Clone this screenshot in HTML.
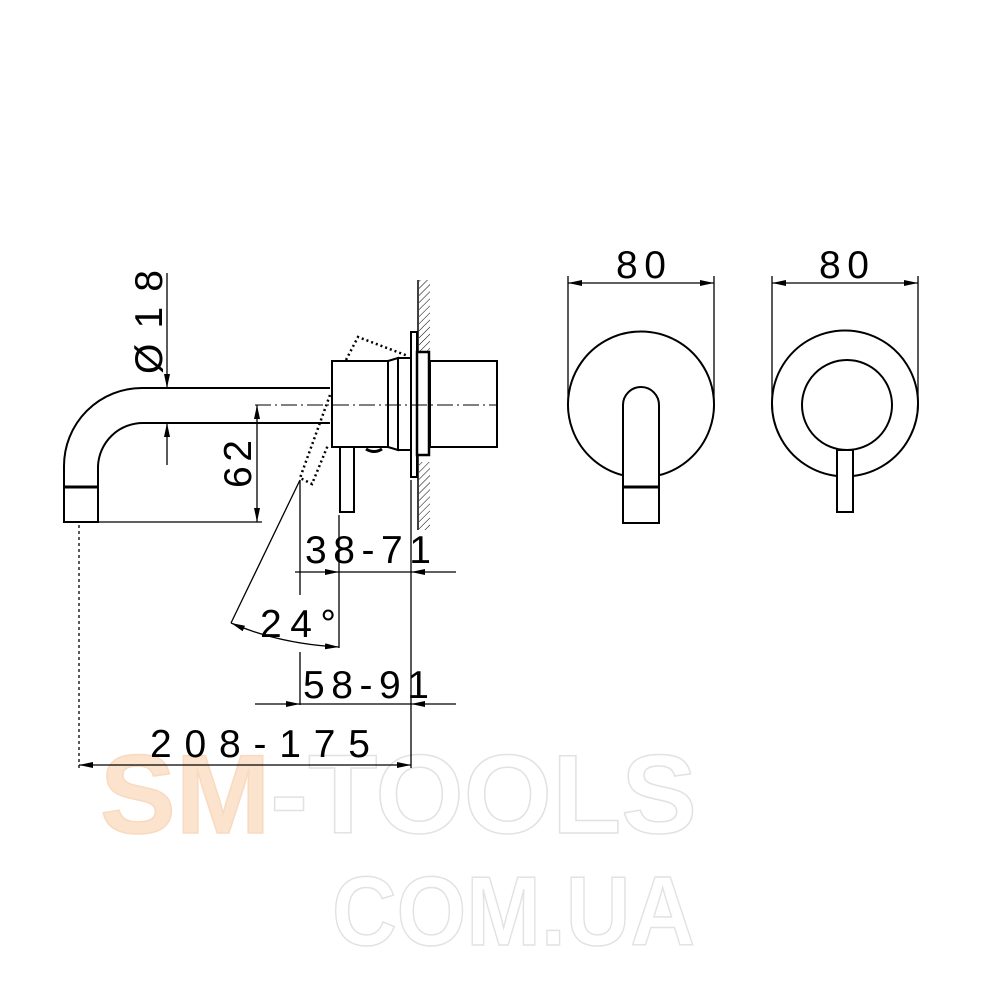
<!DOCTYPE html>
<html><head><meta charset="utf-8"><style>
html,body{margin:0;padding:0;background:#fff}
svg{display:block}
text{font-family:"Liberation Sans",Arial,sans-serif}
</style></head><body>
<svg width="1000" height="1000" viewBox="0 0 1000 1000" xmlns="http://www.w3.org/2000/svg">
<defs>
<pattern id="h" width="5" height="5" patternUnits="userSpaceOnUse" patternTransform="rotate(45)">
<line x1="0" y1="0" x2="0" y2="5" stroke="#000" stroke-width="1"/>
</pattern>
<marker id="a" viewBox="0 0 14 6" refX="14" refY="3" markerWidth="14" markerHeight="6" markerUnits="userSpaceOnUse" orient="auto-start-reverse">
<path d="M0,0 L14,3 L0,6 z" fill="#000"/>
</marker>
</defs>

<text x="100" y="833" font-size="112" font-weight="bold" textLength="597" lengthAdjust="spacingAndGlyphs" fill="#fff" stroke="#e2e2e2" stroke-width="1.5"><tspan fill="#fce3cd" stroke="#f8dac0">SM</tspan>-TOOLS</text>
<text x="332" y="945" font-size="98" font-weight="bold" textLength="363" lengthAdjust="spacingAndGlyphs" fill="#fff" stroke="#e2e2e2" stroke-width="1.5">COM.UA</text>

<g fill="none" stroke="#000" stroke-width="2">
<path d="M330,388 L142,388 A78,78 0 0 0 64,466 L64,522 L98,522 L98,466 A45,45 0 0 1 143,423 L330,423"/>
<line x1="64" y1="487" x2="98" y2="487" stroke-width="3"/>
<rect x="332" y="361" width="56" height="86"/>
<path d="M388,361 L398,358 L398,450 L388,447"/>
<rect x="398" y="358" width="13" height="92"/>
<rect x="411" y="332" width="6" height="145"/>
<rect x="417" y="352" width="12" height="103" stroke-width="2.5"/>
<rect x="430" y="361" width="67" height="86"/>
<rect x="340" y="447" width="14" height="65"/>
<path d="M366,449 Q374,454 382,449" stroke-width="3"/>
<line x1="418" y1="280" x2="418" y2="352" stroke-width="1.5"/>
<line x1="418" y1="455" x2="418" y2="530" stroke-width="1.5"/>
</g>
<rect x="419" y="280" width="11" height="72" fill="url(#h)"/>
<rect x="419" y="462" width="11" height="68" fill="url(#h)"/>
<path d="M346,360 L358,337 L408,356 M330,395 L300,478 L312,484 L328,445" fill="none" stroke="#000" stroke-width="2.5" stroke-dasharray="2,3"/>
<line x1="255" y1="405" x2="497" y2="405" stroke="#000" stroke-width="1" stroke-dasharray="16,4,2,4"/>

<g fill="none" stroke="#000" stroke-width="1.3">
<line x1="167" y1="273" x2="167" y2="388" marker-end="url(#a)"/>
<line x1="167" y1="465" x2="167" y2="423" marker-end="url(#a)"/>
<line x1="257" y1="463" x2="257" y2="405" marker-end="url(#a)"/>
<line x1="257" y1="463" x2="257" y2="522" marker-end="url(#a)"/>
<line x1="98" y1="522" x2="262" y2="522"/>
<line x1="79" y1="525" x2="79" y2="768" stroke-dasharray="3,3"/>
<line x1="411" y1="480" x2="411" y2="768"/>
<line x1="339" y1="515" x2="339" y2="648"/>
<line x1="300" y1="480" x2="300" y2="595"/>
<line x1="300" y1="652" x2="300" y2="705"/>
<line x1="300" y1="480" x2="231" y2="623"/>
<line x1="295" y1="572" x2="339" y2="572" marker-end="url(#a)"/>
<line x1="339" y1="572" x2="411" y2="572"/>
<line x1="456" y1="572" x2="411" y2="572" marker-end="url(#a)"/>
<path d="M231,623 Q280,644 339,647" marker-start="url(#a)" marker-end="url(#a)"/>
<line x1="255" y1="704" x2="300" y2="704" marker-end="url(#a)"/>
<line x1="300" y1="704" x2="411" y2="704"/>
<line x1="456" y1="704" x2="411" y2="704" marker-end="url(#a)"/>
<line x1="79" y1="765" x2="411" y2="765" marker-start="url(#a)" marker-end="url(#a)"/>
<line x1="568" y1="276" x2="568" y2="410"/>
<line x1="714" y1="276" x2="714" y2="410"/>
<line x1="568" y1="283" x2="714" y2="283" marker-start="url(#a)" marker-end="url(#a)"/>
<line x1="772" y1="276" x2="772" y2="410"/>
<line x1="918" y1="276" x2="918" y2="410"/>
<line x1="772" y1="283" x2="918" y2="283" marker-start="url(#a)" marker-end="url(#a)"/>
</g>

<g fill="none" stroke="#000" stroke-width="2">
<path d="M622,475 A73,73 0 1 1 660,475"/>
<path d="M623,487 L623,405 A18,18 0 0 1 659,405 L659,487"/>
<rect x="623" y="487" width="36" height="36"/>
<line x1="623" y1="487" x2="659" y2="487" stroke-width="3"/>
<path d="M837,476 A73,73 0 1 1 853,476"/>
<circle cx="847" cy="405" r="45"/>
<rect x="837" y="450" width="16" height="62"/>
</g>

<g font-size="39" fill="#000">
<text x="616" y="278" textLength="50" lengthAdjust="spacing">80</text>
<text x="819" y="278" textLength="50" lengthAdjust="spacing">80</text>
<text x="305" y="563" textLength="126" lengthAdjust="spacing">38-71</text>
<text x="260" y="637" textLength="76" lengthAdjust="spacing">24°</text>
<text x="303" y="698" textLength="126" lengthAdjust="spacing">58-91</text>
<text x="150" y="757" textLength="220" lengthAdjust="spacing">208-175</text>
<text transform="translate(162,374) rotate(-90)" textLength="104" lengthAdjust="spacing">Ø18</text>
<text transform="translate(251,488) rotate(-90)" textLength="48" lengthAdjust="spacing">62</text>
</g>
</svg>
</body></html>
